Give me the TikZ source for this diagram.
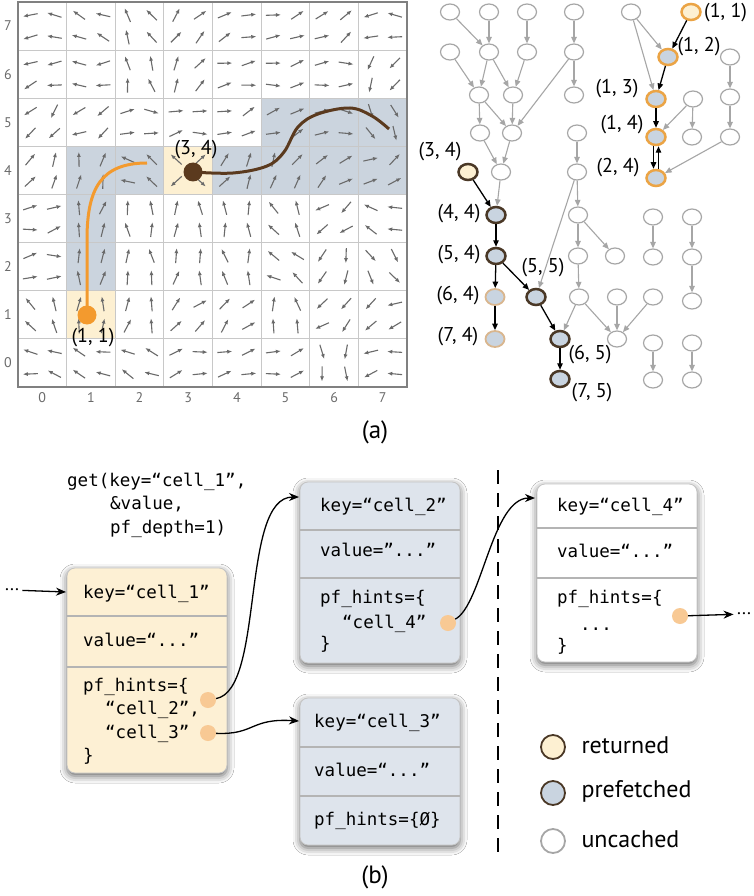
\documentclass[tikz,border=0pt]{standalone}
\usepackage{fontspec}
\setmainfont{PT Sans}
\newfontfamily\mono{DejaVu Sans Mono}
\usetikzlibrary{arrows.meta,shapes.geometric,shadows.blur,calc}
\definecolor{gridc}{HTML}{C8C8C8}
\definecolor{framec}{HTML}{808080}
\definecolor{vecc}{HTML}{6A6A6A}
\definecolor{shadeb}{HTML}{CBD4DE}
\definecolor{creamc}{HTML}{FDF0D2}
\definecolor{orangec}{HTML}{F39A2E}
\definecolor{brownc}{HTML}{5B3A1E}
\definecolor{nodeg}{HTML}{A6A6A6}
\definecolor{pref}{HTML}{C9D4E0}
\definecolor{orangeb}{HTML}{EBA445}
\definecolor{darkb}{HTML}{4A3826}
\definecolor{tanb}{HTML}{D9B68E}
\definecolor{boxblue}{HTML}{DEE4EC}
\definecolor{boxcream}{HTML}{FDF0D4}
\definecolor{boxline}{HTML}{C4C4C4}
\definecolor{sepc}{HTML}{B4B4B4}
\definecolor{dotc}{HTML}{F8C994}
\begin{document}
\begin{tikzpicture}[x=1pt,y=-1pt,
  vec/.style={draw=vecc,line width=1.1pt,-{Latex[length=5pt,width=4pt]}},
  axl/.style={text=vecc,font=\fontsize{14}{14}\selectfont},
  unc/.style={ellipse,draw=nodeg,line width=1.2pt,fill=white,minimum width=19pt,minimum height=16pt,inner sep=0pt},
  pfo/.style={unc,draw=orangeb,fill=pref,line width=2.5pt},
  pfb/.style={unc,draw=darkb,fill=pref,line width=2.5pt},
  pft/.style={unc,draw=tanb,fill=pref,line width=1.8pt},
  reto/.style={unc,draw=orangeb,fill=creamc,line width=2.5pt},
  retb/.style={unc,draw=darkb,fill=creamc,line width=2.5pt},
  ge/.style={draw=nodeg,line width=1.1pt,-{Triangle[length=6.5pt,width=5.5pt]}},
  be/.style={draw=black,line width=1.3pt,-{Triangle[length=6.5pt,width=5.5pt]}},
  tl/.style={font=\fontsize{20}{20}\selectfont,inner sep=1pt},
  cbox/.style={rectangle,rounded corners=8pt,draw=boxline,line width=0.8pt,minimum width=160pt,inner sep=0pt,
    blur shadow={shadow xshift=0pt,shadow yshift=-3pt,shadow blur radius=7pt,shadow opacity=60}},
  sep/.style={draw=sepc,line width=2.2pt},
  mt/.style={font=\mono\fontsize{17.5}{17.5}\selectfont,anchor=base west,inner sep=0pt},
  pdot/.style={circle,fill=dotc,minimum size=16pt,inner sep=0pt},
  conn/.style={draw=black,line width=1.3pt,-{Stealth[length=10pt,width=8pt]}},
  leg/.style={circle,minimum size=24pt,inner sep=0pt,line width=1.8pt},
  legt/.style={font=\fontsize{24}{24}\selectfont,anchor=west},
  captext/.style={font=\fontsize{25}{25}\selectfont}]
\useasboundingbox (0,0) rectangle (754,896);
\fill[white] (0,0) rectangle (754,896);
% ---------- grid (a) ----------
\fill[shadeb] (66.6,146.4) rectangle (115.25,290.75);
\fill[shadeb] (115.25,146.4) rectangle (163.9,194.5);
\fill[shadeb] (212.5,146.4) rectangle (407,194.5);
\fill[shadeb] (261.1,98.25) rectangle (407,146.4);
\fill[creamc] (66.6,290.75) rectangle (115.25,338.9);
\fill[creamc] (163.9,146.4) rectangle (212.5,194.5);
\foreach \i in {1,...,7}{
  \draw[gridc,line width=0.9pt] ({18+48.625*\i},2) -- ({18+48.625*\i},387);
  \draw[gridc,line width=0.9pt] (18,{2+48.125*\i}) -- (407,{2+48.125*\i});
}
\foreach \rowl [count=\ri from 0] in {
{180,160,120,45,20,20,30,180},
{200,180,100,60,15,10,0,240},
{230,210,0,10,20,20,0,300},
{60,75,150,999,60,60,40,30},
{10,80,100,90,90,120,220,160},
{5,85,95,80,100,150,250,300},
{120,90,80,40,45,100,220,210},
{170,160,150,15,20,15,270,190}}{
  \foreach \a [count=\ci from 0] in \rowl {
    \foreach \dx/\dy [count=\k] in {-12/-11,12/-11,-12/11,12/11}{
      \pgfmathsetmacro\cx{18+48.625*(\ci+0.5)+\dx}
      \pgfmathsetmacro\cy{2+48.125*(\ri+0.5)+\dy}
      \pgfmathsetmacro\ang{\a==999 ? atan2(0-(\dy),\dx) : \a+18*sin(97*\ci+61*\ri+143*\k)}
      \pgfmathsetmacro\xa{\cx-7.5*cos(\ang)}
      \pgfmathsetmacro\ya{\cy+7.5*sin(\ang)}
      \pgfmathsetmacro\xb{\cx+7.5*cos(\ang)}
      \pgfmathsetmacro\yb{\cy-7.5*sin(\ang)}
      \draw[vec] (\xa,\ya) -- (\xb,\yb);
    }
  }
}
\draw[framec,line width=1.8pt] (18,2) rectangle (407,387);
\foreach \i in {0,...,7}{
  \node[axl] at ({18+48.625*(\i+0.5)},398) {\i};
  \node[axl] at (8,{2+48.125*(7-\i+0.5)}) {\i};
}
\draw[orangec,line width=3pt] (87,315) -- (87,235) .. controls (88,190) and (100,163) .. (147,163);
\draw[brownc,line width=3pt] plot[smooth,tension=0.6] coordinates {(193,172) (233,173) (267,166) (284,152) (298,127) (318,114) (350,108) (372,116) (389,129)};
\node[circle,fill=orangec,minimum size=19pt,inner sep=0pt] (o11) at (87,315) {};
\node[circle,fill=brownc,minimum size=19pt,inner sep=0pt] (o34) at (193,172) {};
\node[tl] at (93,338) {(1, 1)};
\node[tl] at (196,150) {(3, 4)};
\node[captext] at (375,432) {(a)};
% ---------- tree ----------
\node[unc] (a1) at (450,12) {};
\node[unc] (a2) at (489,12) {};
\node[unc] (a3) at (527,12) {};
\node[unc] (a4) at (574,12) {};
\node[unc] (a5) at (631,12) {};
\node[unc] (b1) at (450,52) {};
\node[unc] (b2) at (489,52) {};
\node[unc] (b3) at (527,52) {};
\node[unc] (b4) at (574,52) {};
\node[unc] (b5) at (730,57) {};
\node[unc] (c1) at (479,95) {};
\node[unc] (c2) at (513,95) {};
\node[unc] (c3) at (574,95) {};
\node[unc] (c4) at (693,99) {};
\node[unc] (c5) at (730,97) {};
\node[unc] (d1) at (480,133) {};
\node[unc] (d2) at (512,133) {};
\node[unc] (d3) at (577,133) {};
\node[unc] (d4) at (692,137) {};
\node[unc] (d5) at (730,137) {};
\node[unc] (e1) at (501,172) {};
\node[unc] (e2) at (577,172) {};
\node[unc] (f1) at (578,215) {};
\node[unc] (f2) at (653,217) {};
\node[unc] (f3) at (692,217) {};
\node[unc] (g1) at (578,256) {};
\node[unc] (g2) at (615,256) {};
\node[unc] (g3) at (653,257) {};
\node[unc] (g4) at (692,257) {};
\node[unc] (h1) at (579,297) {};
\node[unc] (h2) at (617,297) {};
\node[unc] (h3) at (653,297) {};
\node[unc] (h4) at (692,301) {};
\node[unc] (i1) at (617,339) {};
\node[unc] (i2) at (653,343) {};
\node[unc] (i3) at (692,343) {};
\node[unc] (j1) at (653,380) {};
\node[unc] (j2) at (692,380) {};
\node[reto] (n11) at (691,12) {};
\node[pfo] (n12) at (668,57) {};
\node[pfo] (n13) at (656,99) {};
\node[pfo] (n14) at (656,137) {};
\node[pfo] (n24) at (656,178) {};
\node[retb] (n34) at (468,172) {};
\node[pfb] (n44) at (496,215) {};
\node[pfb] (n54) at (496,256) {};
\node[pft] (n64) at (495,297) {};
\node[pft] (n74) at (495,339) {};
\node[pfb] (n55) at (536,297) {};
\node[pfb] (n65) at (560,339) {};
\node[pfb] (n75) at (560,379) {};
\foreach \s/\t in {a1/b2,a2/b2,a3/b3,a4/b4,a5/n12,a5/n13,b1/c1,b2/c1,b2/c2,b3/c2,b4/c3,b4/d2,
  c1/d1,c1/d2,c2/d2,c4/d4,c4/n14,b5/c5,c5/d5,d5/n24,d1/e1,d2/e1,d3/e2,e1/n44,e2/f1,e2/n55,
  f1/g1,f1/g2,g1/h1,h1/n65,h1/i1,h2/i1,h3/i1,f2/g3,f3/g4,g4/h4,i2/j1,i3/j2}
  \draw[ge] (\s) -- (\t);
\foreach \s/\t in {n11/n12,n12/n13,n13/n14,n34/n44,n44/n54,n54/n64,n54/n55,n64/n74,n55/n65,n65/n75}
  \draw[be] (\s) -- (\t);
\draw[be] ([xshift=-2.5pt]n14.south) -- ([xshift=-2.5pt]n24.north);
\draw[be] ([xshift=2.5pt]n24.north) -- ([xshift=2.5pt]n14.south);
\node[tl,anchor=west] at (703,13) {(1, 1)};
\node[tl] at (699,47) {(1, 2)};
\node[tl] at (617,89) {(1, 3)};
\node[tl] at (622,125) {(1, 4)};
\node[tl] at (618,168) {(2, 4)};
\node[tl] at (440,152) {(3, 4)};
\node[tl] at (459,214) {(4, 4)};
\node[tl] at (459,255) {(5, 4)};
\node[tl] at (543,268) {(5, 5)};
\node[tl] at (458,296) {(6, 4)};
\node[tl] at (458,337) {(7, 4)};
\node[tl] at (590,355) {(6, 5)};
\node[tl] at (592,393) {(7, 5)};
% ---------- (b) ----------
\node[mt] (g1t) at (67,486) {get(key=“cell\_1”,};
\node[mt] (g2t) at (110,509) {\&value,};
\node[mt] (g3t) at (110,533) {pf\_depth=1)};
% box 1
\node[cbox,fill=boxcream,minimum height=205pt] (b1x) at (147,670.5) {};
\draw[sep] (b1x.west |- 0,616) -- (b1x.east |- 0,616);
\draw[sep] (b1x.west |- 0,667) -- (b1x.east |- 0,667);
\node[mt] (k1) at (83,598) {key=“cell\_1”};
\node[mt] at (83,646) {value=“...”};
\node[mt] at (83,691) {pf\_hints=\{};
\node[mt] at (105,714) {“cell\_2”,};
\node[mt] at (105,738) {“cell\_3”};
\node[mt] at (83,761) {\}};
\node[pdot] (d1a) at (208,700) {};
\node[pdot] (d1b) at (208,733) {};
% box 2
\node[cbox,fill=boxblue,minimum height=181pt] (b2x) at (380,572.5) {};
\draw[sep] (b2x.west |- 0,530) -- (b2x.east |- 0,530);
\draw[sep] (b2x.west |- 0,578) -- (b2x.east |- 0,578);
\node[mt] at (320,511) {key=“cell\_2”};
\node[mt] at (320,556) {value=”...”};
\node[mt] at (320,603) {pf\_hints=\{};
\node[mt] at (342,628) {“cell\_4”};
\node[mt] at (320,649) {\}};
\node[pdot] (d2) at (448,623) {};
% box 3
\node[cbox,fill=boxblue,minimum height=147pt] (b3x) at (380,771.5) {};
\draw[sep] (b3x.west |- 0,747) -- (b3x.east |- 0,747);
\draw[sep] (b3x.west |- 0,796) -- (b3x.east |- 0,796);
\node[mt] at (314,727) {key=“cell\_3”};
\node[mt] at (314,776) {value=“...”};
\node[mt] at (314,825) {pf\_hints=\{Ø\}};
% box 4
\node[cbox,fill=white,minimum height=178pt] (b4x) at (617,573) {};
\draw[sep] (b4x.west |- 0,528) -- (b4x.east |- 0,528);
\draw[sep] (b4x.west |- 0,578) -- (b4x.east |- 0,578);
\node[mt] at (557,511) {key=“cell\_4”};
\node[mt] at (557,557) {value=“...”};
\node[mt] at (557,603) {pf\_hints=\{};
\node[mt] at (580,630) {...};
\node[mt] at (557,651) {\}};
\node[pdot] (d4) at (680,616) {};
% connectors
\node[font=\fontsize{18}{18}\selectfont] (lft) at (12,590) {...};
\node[font=\fontsize{18}{18}\selectfont] (rgt) at (744,614) {...};
\coordinate (in1) at (66,592);
\coordinate (in2) at (299,497);
\coordinate (in3) at (299,721);
\coordinate (in4) at (535,498);
\draw[conn] (lft) -- (in1);
\draw[conn] (d1a) .. controls (265,690) and (240,497) .. (in2);
\draw[conn] (d1b) .. controls (255,735) and (250,718) .. (in3);
\draw[conn] (d2) .. controls (482,605) and (492,498) .. (in4);
\draw[conn] (d4) -- (rgt);
\draw[line width=1.3pt,dash pattern=on 14pt off 9pt] (498,470) -- (498,853);
% legend
\node[leg,draw=darkb,fill=creamc] (lr) at (553,747) {};
\node[leg,draw=darkb,fill=pref] (lp) at (553,793) {};
\node[leg,draw=nodeg,fill=white] (lu) at (553,841) {};
\node[legt] at (578,745) {returned};
\node[legt] at (578,791) {prefetched};
\node[legt] at (578,839) {uncached};
\node[captext] at (375,877) {(b)};
\end{tikzpicture}
\end{document}
